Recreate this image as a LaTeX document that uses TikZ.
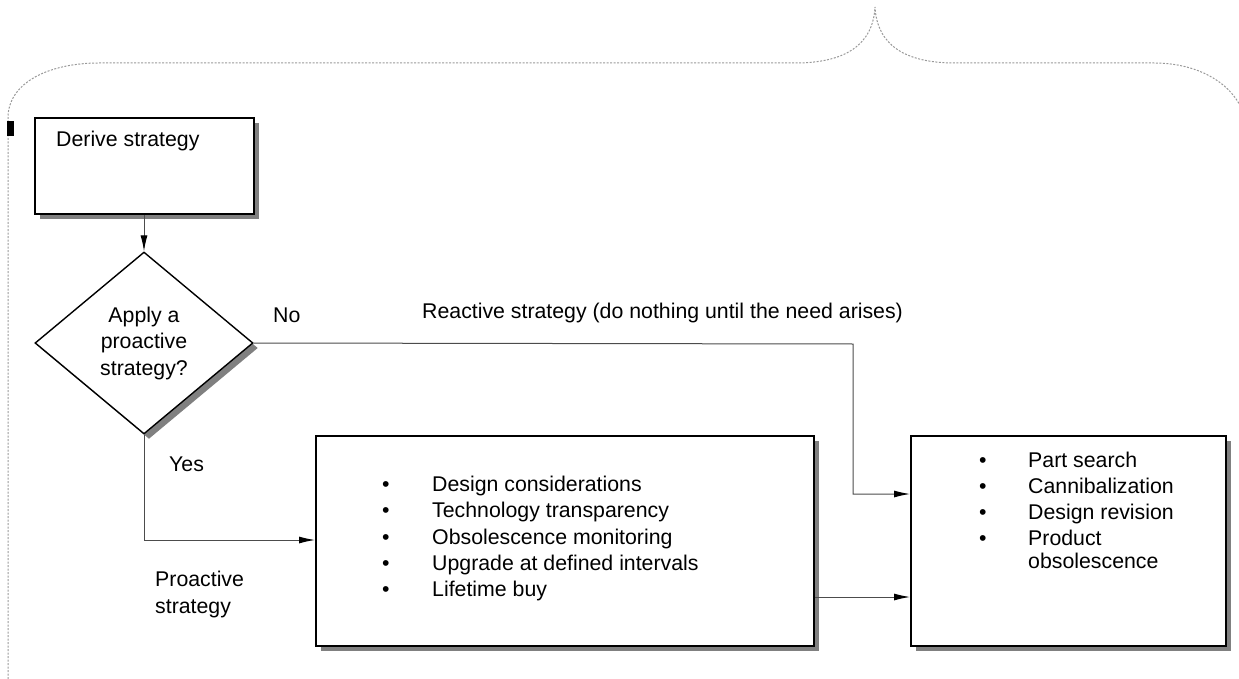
\documentclass[tikz,border=0pt]{standalone}
\usepackage{fontspec}
\setmainfont{Liberation Sans}
\usetikzlibrary{shapes.geometric,shadows,arrows.meta}

\tikzset{
  box/.style={draw, line width=2pt, fill=white, anchor=north west, inner sep=0pt,
    drop shadow={shadow xshift=5pt, shadow yshift=-5pt, fill=gray, opacity=1}},
  decision/.style={diamond, draw, line width=1.4pt, fill=white, inner sep=0pt,
    minimum width=218pt, minimum height=182pt, align=center,
    drop shadow={shadow xshift=5pt, shadow yshift=-5pt, fill=gray, opacity=1}},
  txt/.style={anchor=base west, inner sep=0pt},
  flow/.style={draw=black!70, line width=1pt, -{Latex[length=16pt,width=7pt,color=black]}},
  brace/.style={draw=gray!80, line width=1pt, dash pattern=on 2pt off 1.5pt}
}

\begin{document}
\begin{tikzpicture}[x=1pt, y=-1pt, font=\fontsize{21.3}{26.5}\selectfont]
        \useasboundingbox (0,0) rectangle (1239,679);

        % big brace over everything
        \draw [brace] (8,679) -- (8,118) .. controls (8,82) and (50,63) .. (99,63)
              -- (795,63) .. controls (845,63) and (873,45) .. (875,7)
              .. controls (877,45) and (905,63) .. (955,63)
              -- (1154,63) .. controls (1200,63) and (1236,85) .. (1245,118);
        \fill (7,121) rectangle (14,136);

        \node [box, minimum width=219pt, minimum height=96pt] (derive) at (34,117) {};
        \node [txt] (derivetxt) at (56,147) {Derive strategy};

        \node [decision] (apply) at (144,343)
              {\fontsize{21.3}{24}\selectfont Apply a\\proactive\\strategy?};

        \node [box, minimum width=498pt, minimum height=210pt] (pro) at (315,435) {};
        \node [box, minimum width=315pt, minimum height=210pt] (react) at (910,435) {};

        \node [txt] (m1) at (382,491) {\makebox[50pt][l]{\textbullet}Design considerations};
        \node [txt] (m2) at (382,517) {\makebox[50pt][l]{\textbullet}Technology transparency};
        \node [txt] (m3) at (382,544) {\makebox[50pt][l]{\textbullet}Obsolescence monitoring};
        \node [txt] (m4) at (382,570) {\makebox[50pt][l]{\textbullet}Upgrade at defined intervals};
        \node [txt] (m5) at (382,596) {\makebox[50pt][l]{\textbullet}Lifetime buy};

        \node [txt] (r1) at (979,467) {\makebox[49pt][l]{\textbullet}Part search};
        \node [txt] (r2) at (979,493) {\makebox[49pt][l]{\textbullet}Cannibalization};
        \node [txt] (r3) at (979,519) {\makebox[49pt][l]{\textbullet}Design revision};
        \node [txt] (r4) at (979,545) {\makebox[49pt][l]{\textbullet}Product};
        \node [txt] (r4b) at (1028,568) {obsolescence};

        \node [txt] (no) at (273,322) {No};
        \node [txt] (reactive) at (422,318) {Reactive strategy (do nothing until the need arises)};
        \node [txt] (yes) at (169,471) {Yes};
        \node [txt, align=left] (proactive) at (155,613) {Proactive\\strategy};

        \coordinate (noturn) at (853,344);
        \coordinate (yesturn) at (144,540);

        \draw [flow] (derive.south -| apply.north) -- (apply.north);
        \draw [flow] (apply.east) -- (noturn) |- (react.west |- 0,494);
        \draw [flow] (apply.south) -- (yesturn) -- (pro.west |- yesturn);
        \draw [flow] (pro.east |- 0,597) -- (react.west |- 0,597);

    \end{tikzpicture}
\end{document}
